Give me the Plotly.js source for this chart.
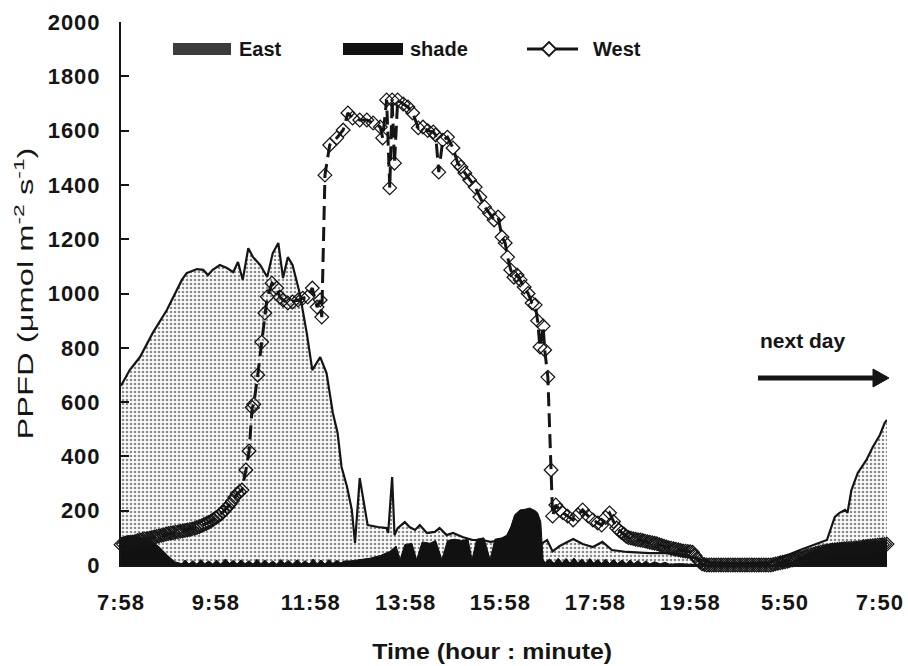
<!DOCTYPE html>
<html>
<head>
<meta charset="utf-8">
<script src="https://cdn.plot.ly/plotly-3.0.1.min.js"></script>
<style>
html,body{margin:0;padding:0;background:#fff;}
#chart{width:908px;height:666px;}
.xtick text, .ytick text { letter-spacing: 1px; }
</style>
</head>
<body>
<div id="chart"></div>
<script>
// x positions are "axis minutes" after 7:58 (night is compressed on the original axis)
const tickPositions = [0,120,240,360,480,600,720,840,960];
const tickLabels = ["7:58","9:58","11:58","13:58","15:58","17:58","19:58","5:50","7:50"];

const eastTime = [0,11,24,40,58,71,77,83,96,104,110,116,125,134,142,148,154,161,167,176,185,192,199,205,211,217,226,235,242,252,260,268,274,279,286,292,296,302,309,312,325,336,338,343,346,350,359,365,372,378,387,397,403,412,420,432,445,458,467,479,492,505,517,530,539,546,555,572,584,597,609,621,640,669,698,723,745,783,821,859,893,903,909,916,919,924,932,943,951,960,966,969];
const eastPPFD = [660,718,766,854,939,1013,1050,1075,1090,1087,1068,1087,1105,1094,1079,1116,1050,1167,1134,1105,1061,1149,1186,1057,1134,1105,1002,854,718,766,707,560,486,361,287,203,81,320,191,147,140,136,118,324,110,136,158,140,129,147,118,122,136,110,118,103,92,92,85,90,95,88,80,75,92,50,70,96,77,66,85,55,48,44,44,29,10,5,10,55,92,177,192,203,192,276,339,387,435,479,523,534];

const shadeTime = [0,9,19,29,39,49,59,68,77,
  81,86,91,96,101,106,111,116,121,126,132,137,142,147,152,157,162,167,172,177,182,187,192,197,202,207,212,217,223,228,233,238,243,248,253,258,263,268,273,278,283,
  290,302,315,328,340,348,353,359,368,374,381,391,398,406,413,422,431,439,444,450,459,467,473,482,488,493,498,505,511,517,524,527,531,534,537,
  542,548,553,558,563,568,573,578,583,588,593,598,603,608,613,618,623,628,634,639,644,649,654,659,664,669,675,682,688,694,707,720,732,824,846,859,878,893,909,931,950,969];
const shadePPFD = [100,108,104,98,88,65,35,12,5,
  18,4,16,3,20,5,15,4,18,3,22,6,17,4,19,5,16,3,21,5,18,4,15,3,20,6,17,4,19,5,16,3,22,5,18,4,20,6,17,8,15,
  15,20,25,35,50,70,20,75,80,20,85,80,90,20,90,95,90,95,20,95,100,20,95,100,110,140,185,203,205,210,200,192,160,18,10,
  22,6,25,8,24,7,26,8,22,6,24,7,20,6,22,5,20,6,18,5,18,5,16,4,15,4,12,4,10,3,5,2,0,0,10,25,55,75,80,82,85,90];

// West: morning, daytime, evening and night/next-morning readings
const westTimeMorning = [0,3,6,9,12,15,18,21,24,27,30,33,36,39,42,45,48,51,54,57,60,63,66,69,72,75,78,81,84,87,90,93,96,99,102,105,108,111,114,117,120,123,126,129,132,135,138,141,144,147,150,153];
const westPPFDMorning = [75,77,80,82,84,85,87,90,92,94,96,97,99,101,103,105,107,109,111,114,116,118,119,121,122,124,125,127,129,131,133,135,138,141,145,149,153,157,162,168,174,180,187,195,205,214,224,236,250,262,270,276];
const westTimeDay = [158,162,166,168,173,178,182,185,191,197,201,205,211,217,224,230,236,242,248,252,254,258,264,273,281,287,293,302,311,319,328,331,336,340,343,346,350,357,363,369,376,382,388,395,398,402,407,413,420,426,430,435,441,448,454,460,466,472,477,482,486,489,493,497,501,505,510,515,520,524,527,530,534,536,540,544,546,550,555,559,565,572,578,584,591,597,603,608,613,618,623];
const westPPFDDay = [350,420,580,592,700,821,928,988,1038,1020,987,976,965,969,976,983,987,1020,950,976,913,1436,1547,1573,1602,1665,1646,1639,1639,1628,1613,1573,1713,1389,1713,1480,1713,1698,1687,1665,1610,1613,1600,1595,1584,1447,1565,1576,1536,1480,1466,1444,1418,1392,1355,1319,1296,1271,1282,1208,1186,1134,1087,1060,1068,1050,1024,1000,965,958,900,803,880,792,692,350,180,221,203,192,180,166,185,203,180,166,155,147,175,192,160];
const westTimeEvening = [627,630,633,636,639,642,645,648,651,654,657,660,663,666,669,672,675,678,681,684,687,690,693,696,699,702,705,708,711,714,717,720,723,726,729];
const westPPFDEvening = [136,128,120,114,106,101,99,97,95,93,92,90,88,86,84,82,80,78,75,72,69,66,64,62,60,58,56,54,52,51,50,49,47,35,22];
const westTimeNight = [732,735,738,741,744,747,750,753,756,759,762,765,768,771,774,777,780,783,786,789,792,795,798,801,804,807,810,813,816,819,822,825,828,831,834,837,840,843,846,849,852,855,858,861,864,867,870,873,876,879,882,885,888,891,894,897,900,903,906,909,912,915,918,921,924,927,930,933,936,939,942,945,948,951,954,957,960,963,966,969];
const westPPFDNight = [12,4,2,0,0,0,0,0,0,0,0,0,0,0,0,0,0,0,0,0,0,0,0,0,0,0,0,0,0,0,0,2,4,6,8,10,12,14,16,18,20,22,25,27,30,33,35,37,40,43,45,47,49,51,52,54,55,56,57,58,59,60,61,61,62,62,63,64,65,67,68,69,70,71,72,73,74,75,76,77];

const westTime = westTimeMorning.concat(westTimeDay, westTimeEvening, westTimeNight);
const westPPFD = westPPFDMorning.concat(westPPFDDay, westPPFDEvening, westPPFDNight);

const seriesNames = ["East","shade","West"];
const xTitle = "Time (hour : minute)";
const yTitle = "PPFD (μmol m<sup>-2</sup> s<sup>-1</sup>)";

// plot area in pixels (for decorations placed in paper coordinates)
const L = 121, R = 887, T = 22, B = 565;
const px = x => (x - L) / (R - L);
const py = y => (B - y) / (B - T);

const FONT = "Liberation Sans, Arial, sans-serif";
const INK = "#151515";

const traces = [
  {
    x: eastTime, y: eastPPFD, name: seriesNames[0], type: "scatter", mode: "lines",
    fill: "tozeroy",
    fillpattern: {shape: ".", fgcolor: "#8a8a8a", bgcolor: "#ffffff", size: 4, solidity: 0.35},
    line: {color: INK, width: 2.2}, showlegend: false
  },
  {
    x: shadeTime, y: shadePPFD, name: seriesNames[1], type: "scatter", mode: "lines",
    fill: "tozeroy", fillcolor: "#111111",
    line: {color: "#111111", width: 1}, showlegend: false
  },
  {
    x: westTime, y: westPPFD, name: seriesNames[2], type: "scatter", mode: "lines+markers",
    line: {color: INK, width: 3, dash: "14px,7px"},
    marker: {symbol: "diamond-open", size: 10.5, color: INK, line: {color: INK, width: 1.25}},
    cliponaxis: false, showlegend: false
  }
];

const shapes = [
  // legend swatches
  {type: "rect", xref: "paper", yref: "paper", x0: px(173), x1: px(231), y0: py(55), y1: py(43),
   fillcolor: "#3c3c3c", line: {width: 0}},
  {type: "rect", xref: "paper", yref: "paper", x0: px(343), x1: px(403), y0: py(55), y1: py(43),
   fillcolor: "#111111", line: {width: 0}},
  {type: "line", xref: "paper", yref: "paper", x0: px(527), x1: px(578), y0: py(49), y1: py(49),
   line: {color: INK, width: 3}},
  {type: "path", xref: "paper", yref: "paper",
   path: `M ${px(542)} ${py(49)} L ${px(549)} ${py(42)} L ${px(556)} ${py(49)} L ${px(549)} ${py(56)} Z`,
   fillcolor: "#ffffff", line: {color: INK, width: 1.8}},
  // "next day" arrow
  {type: "line", xref: "paper", yref: "paper", x0: px(758), x1: px(876), y0: py(378), y1: py(378),
   line: {color: INK, width: 5}},
  {type: "path", xref: "paper", yref: "paper",
   path: `M ${px(873)} ${py(369)} L ${px(889)} ${py(378)} L ${px(873)} ${py(387)} Z`,
   fillcolor: INK, line: {color: INK, width: 1}}
];

const legendFont = {family: FONT, size: 20, color: INK, weight: "bold"};
const annotations = [
  {xref: "paper", yref: "paper", x: px(237), y: py(49), xanchor: "left", yanchor: "middle",
   text: seriesNames[0], showarrow: false, font: legendFont},
  {xref: "paper", yref: "paper", x: px(408), y: py(49), xanchor: "left", yanchor: "middle",
   text: seriesNames[1], showarrow: false, font: legendFont},
  {xref: "paper", yref: "paper", x: px(591), y: py(49), xanchor: "left", yanchor: "middle",
   text: seriesNames[2], showarrow: false, font: legendFont},
  {xref: "paper", yref: "paper", x: px(803), y: py(341), xanchor: "center", yanchor: "middle",
   text: "next day", showarrow: false, font: {family: FONT, size: 21, color: INK, weight: "bold"}},
  // x-axis title
  {xref: "paper", yref: "paper", x: px(492), y: py(651), xanchor: "center", yanchor: "middle",
   text: xTitle, showarrow: false, font: {family: FONT, size: 22, color: INK, weight: "bold"}}
];

const layout = {
  width: 908, height: 666,
  margin: {l: L, r: 908 - R, t: T, b: 666 - B},
  paper_bgcolor: "#ffffff", plot_bgcolor: "#ffffff",
  showlegend: false,
  xaxis: {
    range: [0, 969], tickmode: "array", tickvals: tickPositions, ticktext: tickLabels,
    showgrid: false, zeroline: false, showline: true, linecolor: INK, linewidth: 2,
    ticks: "", ticklabelstandoff: 17,
    tickfont: {family: FONT, size: 22, color: INK, weight: "bold"}
  },
  yaxis: {
    range: [0, 2000], dtick: 200, tick0: 0,
    showgrid: false, zeroline: false, showline: true, linecolor: INK, linewidth: 2,
    ticks: "inside", ticklen: 8, tickwidth: 2, tickcolor: INK, ticklabelstandoff: 14,
    tickfont: {family: FONT, size: 22, color: INK, weight: "bold"},
    title: {text: yTitle, standoff: 8,
            font: {family: FONT, size: 22, color: INK}}
  },
  shapes: shapes,
  annotations: annotations
};

Plotly.newPlot("chart", traces, layout, {displayModeBar: false, staticPlot: true}).then(() => {
  // the original's titles are set in a wide, tracked face: stretch them along the baseline
  const yt = document.querySelector("text.ytitle");
  if (yt) { yt.setAttribute("textLength", "292"); yt.setAttribute("lengthAdjust", "spacingAndGlyphs"); }
  document.querySelectorAll("text.annotation-text").forEach(t => {
    if (t.textContent === xTitle) {
      t.setAttribute("textLength", "240"); t.setAttribute("lengthAdjust", "spacingAndGlyphs");
    }
  });
});
</script>
</body>
</html>
